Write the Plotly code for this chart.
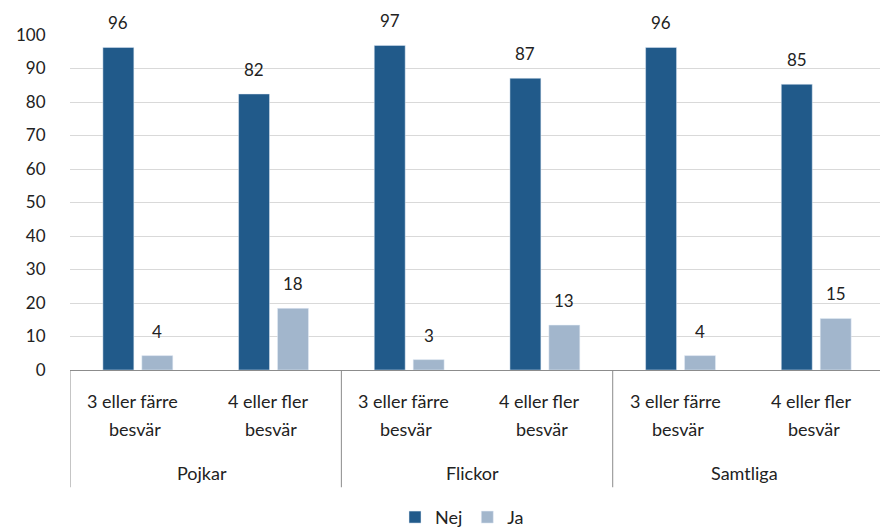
import plotly.graph_objects as go

groups = ["Pojkar", "Pojkar", "Flickor", "Flickor", "Samtliga", "Samtliga"]
categories = ["3 eller färre|besvär", "4 eller fler|besvär"] * 3
nej = [96.3, 82.4, 96.9, 87.1, 96.3, 85.3]
ja = [4.3, 18.4, 3.1, 13.4, 4.3, 15.4]
y_ticks = [0, 10, 20, 30, 40, 50, 60, 70, 80, 90, 100]

FONT = "Lato"
TXT = "#222222"
xs = list(range(len(categories)))

fig = go.Figure()
fig.add_trace(go.Bar(name="Nej", x=xs, y=nej, marker_color="#215A8A"))
fig.add_trace(go.Bar(name="Ja", x=xs, y=ja, marker_color="#A2B6CC"))

annotations = []
# data labels
off = (1 - 0.426) / 4
for i, (a, b) in enumerate(zip(nej, ja)):
    for val, dx in ((a, -off), (b, off)):
        annotations.append(dict(x=i + dx, y=val, xref="x", yref="y", text=f"{val:.0f}",
                                showarrow=False, yanchor="bottom", yshift=12,
                                font=dict(size=17, color=TXT)))
# category labels
for i, c in enumerate(categories):
    l1, l2 = c.split("|")
    annotations.append(dict(x=i - 0.04, y=0, xref="x", yref="paper", text=l1, showarrow=False,
                            yanchor="middle", yshift=-31, font=dict(size=18, color=TXT)))
    annotations.append(dict(x=i - 0.02, y=0, xref="x", yref="paper", text=l2, showarrow=False,
                            yanchor="middle", yshift=-59, font=dict(size=18, color=TXT)))
# group labels and dividers
shapes = []
seen = []
for i, g in enumerate(groups):
    if g not in seen:
        seen.append(g)
        idx = [j for j, gg in enumerate(groups) if gg == g]
        annotations.append(dict(x=(idx[0] + idx[-1]) / 2 - 0.03, y=0, xref="x", yref="paper", text=g,
                                showarrow=False, yanchor="middle", yshift=-103,
                                font=dict(size=18, color=TXT)))
        shapes.append(dict(type="line", xref="x", yref="paper", x0=idx[0] - 0.5, x1=idx[0] - 0.5,
                           y0=0, y1=-0.35, line=dict(color="#8c8c8c", width=1)))
shapes.append(dict(type="line", xref="x", yref="paper", x0=len(xs) - 0.5, x1=len(xs) - 0.5,
                   y0=0, y1=-0.35, line=dict(color="#8c8c8c", width=1)))

fig.update_layout(
    width=880, height=529,
    margin=dict(l=70, r=0, t=35, b=159),
    paper_bgcolor="white", plot_bgcolor="white",
    font=dict(family=FONT, size=17, color=TXT),
    barmode="group", bargap=0.426, bargroupgap=0.205,
    showlegend=True,
    legend=dict(orientation="h", xref="container", yref="container", x=0.525, y=0.022,
                xanchor="center", yanchor="middle", font=dict(size=18)),
    annotations=annotations, shapes=shapes,
)
fig.update_xaxes(
    range=[-0.5, 5.47], showticklabels=False, ticks="",
    showline=True, linecolor="#8c8c8c", linewidth=1, showgrid=False, zeroline=False,
)
fig.update_yaxes(
    range=[0, 100], tickvals=y_ticks, showgrid=True, gridcolor="#d9d9d9",
    ticks="outside", ticklen=20, tickcolor="rgba(0,0,0,0)",
    tickfont=dict(size=17), zeroline=False, showline=False,
)
fig.write_html("out.html")
